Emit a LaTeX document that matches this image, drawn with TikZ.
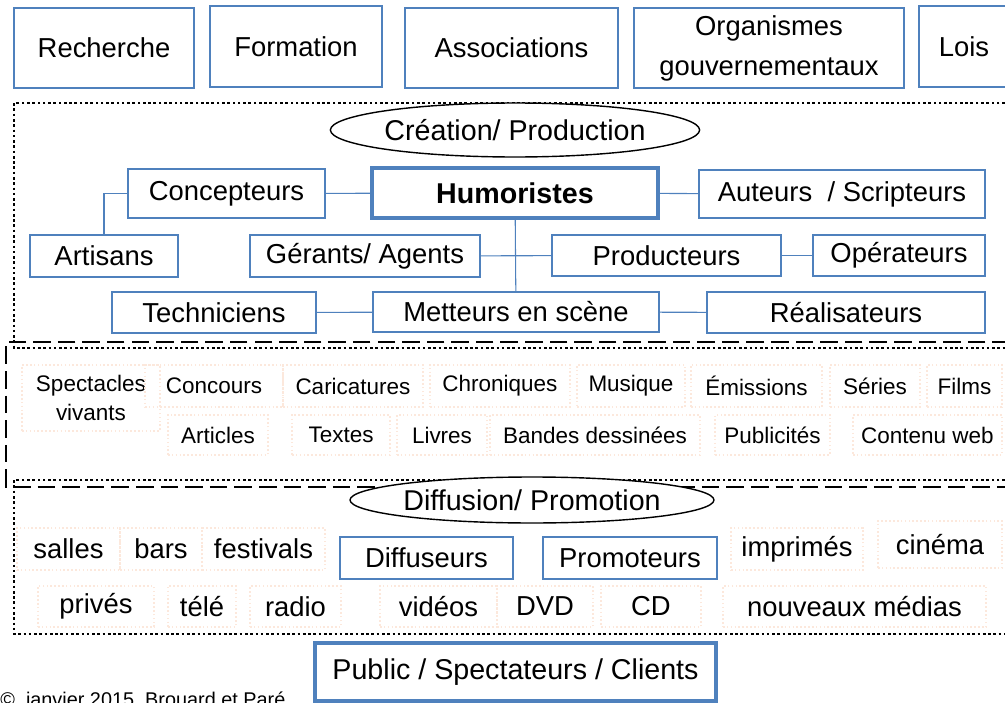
\documentclass[tikz,border=0pt]{standalone}
\usepackage{fontspec}
\setmainfont{Liberation Sans}
\usepackage{xcolor}
\usepackage{tikz}
\usetikzlibrary{shapes.geometric}
\definecolor{boxblue}{RGB}{79, 129, 189}
\definecolor{peach}{RGB}{252, 232, 220}

\begin{document}
\begin{tikzpicture}[
    x=0.02cm, y=-0.02cm,
    box/.style={rectangle, draw=boxblue, line width=1.1pt, inner sep=0pt, align=center, font=\fontsize{15.6}{22.8}\selectfont},
    main/.style={box, line width=2pt, font=\bfseries\fontsize{16.3}{19}\selectfont},
    item/.style={rectangle, draw=peach, line width=0.9pt, dash pattern=on 0.9pt off 1.3pt, inner sep=0pt, align=center, font=\fontsize{12.8}{16.5}\selectfont},
    media/.style={item, font=\fontsize{15.6}{18}\selectfont},
    oval/.style={ellipse, draw, fill=white, line width=0.8pt, inner sep=0pt, font=\fontsize{16.3}{19}\selectfont},
    link/.style={draw=boxblue, line width=0.6pt},
    zone/.style={line width=1.5pt, dash pattern=on 1.5pt off 1.5pt},
    zonedash/.style={line width=1.1pt, dash pattern=on 10pt off 4pt}
]
\useasboundingbox (0,0) rectangle (1005,703);
\clip (0,0) rectangle (1005,703);

% Zones
\draw[zone] (1010,103) -- (14,103) -- (14,348) -- (1010,348);
\draw[zonedash] (1010,342) -- (6,342) -- (6,487) -- (1010,487);
\draw[zone] (1010,480) -- (14,480) -- (14,634) -- (1010,634);

% Top row
\node[box, minimum width=3.6cm, minimum height=1.6cm] (rech) at (104,48) {Recherche};
\node[box, minimum width=3.44cm, minimum height=1.62cm] (form) at (296,46.5) {Formation};
\node[box, minimum width=4.26cm, minimum height=1.6cm] (assoc) at (511.5,48) {Associations};
\node[box, minimum width=5.4cm, minimum height=1.6cm] (organ) at (769,48) {Organismes\\gouvernementaux};
\node[box, minimum width=1.8cm, minimum height=1.62cm] (lois) at (964,46.5) {Lois};

% Creation / Production
\node[oval, minimum width=6.72cm, minimum height=1.08cm] (crea) at (515,130) {Création/ Production};
\node[box, minimum width=3.94cm, minimum height=0.98cm] (concepteurs) at (226.5,193.5) {Concepteurs};
\node[main, minimum width=5.72cm, minimum height=1cm] (humoristes) at (515,193) {Humoristes};
\node[box, minimum width=5.72cm, minimum height=0.96cm] (auteurs) at (842,194) {Auteurs\ \ / Scripteurs};
\node[box, minimum width=2.96cm, minimum height=0.84cm] (artisans) at (104,256) {Artisans};
\node[box, minimum width=4.6cm, minimum height=0.84cm] (gerants) at (365,256) {Gérants/ Agents};
\node[box, minimum width=4.58cm, minimum height=0.82cm] (producteurs) at (666.5,255.5) {Producteurs};
\node[box, minimum width=3.44cm, minimum height=0.82cm] (operateurs) at (899,255.5) {Opérateurs};
\node[box, minimum width=4.08cm, minimum height=0.82cm] (techniciens) at (214,312.5) {Techniciens};
\node[box, minimum width=5.72cm, minimum height=0.8cm] (metteurs) at (516,312) {Metteurs en scène};
\node[box, minimum width=5.56cm, minimum height=0.82cm] (realisateurs) at (846,312.5) {Réalisateurs};

% Links
\draw[link] (concepteurs) -- (humoristes);
\draw[link] (humoristes) -- (auteurs);
\draw[link] (artisans.north) |- (concepteurs.west);
\draw[link] (humoristes) -- (metteurs);
\draw[link] (gerants) -- (producteurs);
\draw[link] (producteurs) -- (operateurs);
\draw[link] (techniciens) -- (metteurs);
\draw[link] (metteurs) -- (realisateurs);

% Products
\node[item, minimum width=2.76cm, minimum height=1.32cm] (spect) at (91,398) {Spectacles\\vivants};
\node[item, minimum width=2.76cm, minimum height=0.84cm] (concours) at (214,386) {Concours};
\node[item, minimum width=2.8cm, minimum height=0.84cm] (caric) at (353,386) {Caricatures};
\node[item, minimum width=2.8cm, minimum height=0.84cm] (chron) at (500,386) {Chroniques};
\node[item, minimum width=2.16cm, minimum height=0.84cm] (musique) at (631,386) {Musique};
\node[item, minimum width=2.62cm, minimum height=0.84cm] (emissions) at (756.5,386) {Émissions};
\node[item, minimum width=1.8cm, minimum height=0.84cm] (series) at (875,386) {Séries};
\node[item, minimum width=1.5cm, minimum height=0.84cm] (films) at (964.5,386) {Films};
\node[item, minimum width=2cm, minimum height=0.8cm] (articles) at (218,435) {Articles};
\node[item, minimum width=1.96cm, minimum height=0.8cm] (textes) at (341,435) {Textes};
\node[item, minimum width=1.8cm, minimum height=0.8cm] (livres) at (442,435) {Livres};
\node[item, minimum width=4.2cm, minimum height=0.8cm] (bandes) at (595,435) {Bandes dessinées};
\node[item, minimum width=2.3cm, minimum height=0.8cm] (publicites) at (772.5,435) {Publicités};
\node[item, minimum width=2.98cm, minimum height=0.8cm] (contenu) at (927.5,435) {Contenu web};

% Diffusion / Promotion
\node[oval, minimum width=6.68cm, minimum height=0.92cm] (diff) at (532,500) {Diffusion/ Promotion};
\node[media, minimum width=2.06cm, minimum height=0.84cm] (salles) at (68.5,549) {salles};
\node[media, minimum width=1.64cm, minimum height=0.84cm] (bars) at (161,549) {bars};
\node[media, minimum width=2.46cm, minimum height=0.84cm] (festivals) at (263.5,549) {festivals};
\node[box, minimum width=3.46cm, minimum height=0.84cm] (diffuseurs) at (426.5,558) {Diffuseurs};
\node[box, minimum width=3.48cm, minimum height=0.84cm] (promoteurs) at (630,558) {Promoteurs};
\node[media, minimum width=2.64cm, minimum height=0.84cm] (imprimes) at (797,549) {imprimés};
\node[media, minimum width=2.48cm, minimum height=0.94cm] (cinema) at (940,544.5) {cinéma};
\node[media, minimum width=2.32cm, minimum height=0.82cm] (prives) at (96,606.5) {privés};
\node[media, minimum width=1.36cm, minimum height=0.82cm] (tele) at (202,606.5) {télé};
\node[media, minimum width=1.82cm, minimum height=0.82cm] (radio) at (295.5,606.5) {radio};
\node[media, minimum width=2.34cm, minimum height=0.82cm] (videos) at (438.5,606.5) {vidéos};
\node[media, minimum width=1.92cm, minimum height=0.82cm] (dvd) at (545,606.5) {DVD};
\node[media, minimum width=2cm, minimum height=0.82cm] (cd) at (651,606.5) {CD};
\node[media, minimum width=5.26cm, minimum height=0.82cm] (nouveaux) at (854.5,606.5) {nouveaux médias};

% Public
\node[box, line width=2pt, font=\fontsize{16.3}{19}\selectfont, minimum width=8.02cm, minimum height=1.16cm] (public) at (515.5,672) {Public / Spectateurs / Clients};
\node[anchor=base west, inner sep=0pt, font=\fontsize{11.3}{13}\selectfont] (copy) at (0,706) {©\ \ janvier 2015, Brouard et Paré};

\end{tikzpicture}
\end{document}
